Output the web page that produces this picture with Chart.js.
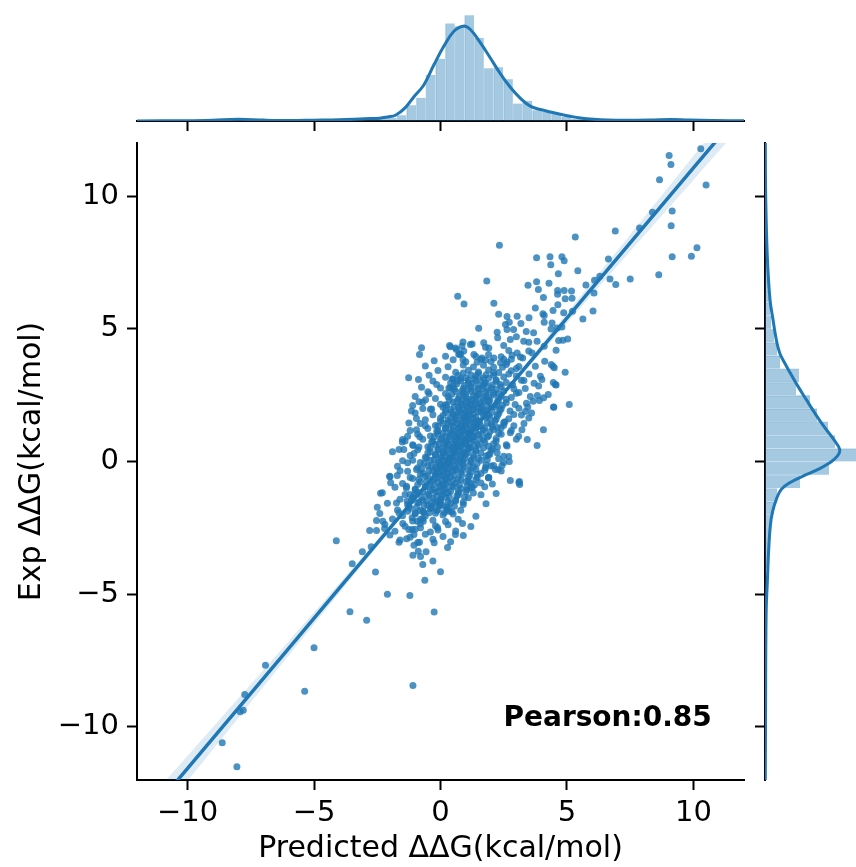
<!DOCTYPE html>
<html>
<head>
<meta charset="utf-8">
<title>Predicted vs Exp ddG</title>
<script src="https://cdn.jsdelivr.net/npm/chart.js@4.4.0/dist/chart.umd.min.js"></script>
<style>
    html, body { margin: 0; padding: 0; background: #fff; }
    #wrap { position: relative; width: 856px; height: 867px; overflow: hidden; }
    .panel { position: absolute; }
</style>
</head>
<body>
<div id="wrap">
    <canvas class="panel" id="mainChart" width="760" height="867" style="left:0;top:0"></canvas>
    <canvas class="panel" id="topChart" width="760" height="135" style="left:0;top:0"></canvas>
    <canvas class="panel" id="rightChart" width="116" height="867" style="left:740px;top:0"></canvas>
</div>
<script>
// ---- data ----
const axisTicks = [-10, -5, 0, 5, 10];

// outer points of the scatter [predicted, experimental]
const scatterTail = [
    [10.29,11.78],[9.04,11.53],[9.11,11.19],[8.66,10.62],[10.5,10.42],[8.38,9.39],[9.16,9.44],[9.12,8.88],
    [7.87,8.80],[6.91,8.68],[5.33,8.46],[2.33,8.15],[10.14,8.05],[9.92,7.73],[9.16,7.71],[3.80,7.68],
    [4.33,7.71],[4.80,7.71],[4.89,7.56],[4.36,7.41],[6.64,7.63],[5.43,7.19],[4.66,7.07],[8.63,7.04],
    [7.5,6.88],[6.70,6.88],[6.93,6.67],[6.30,6.98],[6.09,6.83],[5.75,6.65],[1.83,6.80],[3.46,6.64],
    [3.80,6.77],[3.87,6.48],[4.29,6.72],[4.63,6.44],[4.89,6.44],[5.18,6.42],[4.63,6.30],[6.07,6.35],
    [4.07,6.18],[4.93,6.13],[5.20,6.15],[0.68,6.23],[0.93,5.93],[2.11,5.96],[3.75,5.78],[4.64,5.91],
    [4.45,5.69],[4.87,5.60],[5.22,5.66],[4.05,5.57],[4.10,5.50],[6.03,5.67],[5.63,5.37],[2.30,5.55],
    [2.63,5.46],[3.03,5.47],[3.50,5.42],[2.72,5.25],[2.57,5.16],[3.18,5.20],[4.41,5.22],[4.10,5.25],
    [1.51,5.02],[2.24,4.87],[2.63,4.97],[2.89,4.97],[3.39,4.90],[3.68,4.85],[4.37,4.99],[4.61,5.03],
    [4.80,5.07],[2.26,4.66],[2.76,4.60],[3.00,4.70],[3.29,4.53],[3.49,4.49],[3.82,4.53],[4.67,4.56],
    [4.84,4.57],[5.03,4.62],[0.89,4.50],[1.25,4.43],[0.39,4.32],[1.71,4.47],[1.91,4.28],[1.78,4.30],
    [2.50,4.37],[2.70,4.18],[3.03,4.09],[3.49,4.16],[4.10,4.34],[4.57,4.19],[0.92,4.16],[0.72,4.03],
    [0.89,3.84],[1.32,4.03],[1.64,3.90],[2.11,3.90],[2.83,4.00],[3.16,3.94],[3.62,4.09],[1.45,3.74],
    [1.78,3.82],[2.37,3.72],[2.63,3.74],[4.12,3.78],[4.38,3.65],[4.50,3.53],[4.93,3.36],[3.75,3.59],
    [3.95,3.21],[4.01,3.09],[3.88,2.84],[4.57,2.88],[0.50,3.11],[0.33,2.77],[4.08,2.40],[3.91,2.30],
    [4.47,2.05],[3.49,1.64],
    [0.59,4.28],[0.85,4.35],[1.18,4.41],[0.76,4.06],[-0.59,2.33],[-0.35,1.98],[0.20,2.14],[0.46,3.11],
    [0.39,2.77],[0.66,3.03],[-1.51,0.73],[-1.64,0.45],[-1.08,0.60],[-0.82,0.93],[-2.50,-1.72],[-1.97,-0.80],
    [-1.71,-0.53],[-1.34,-0.93],[-1.21,-1.24],[-1.74,-1.56],[-1.32,-1.49],[-1.64,-1.93],[-0.66,-1.91],[-0.37,-1.68],
    [-0.07,-1.53],[0.26,-1.83],[2.76,-0.72],[3.13,-0.87],[3.82,0.60],[4.48,2.04],[4.54,2.90],[4.45,3.59],
    [3.66,2.27],[3.22,1.20],[3.09,0.95],[2.76,1.08],[2.63,0.58],[2.50,0.20],[2.24,0.33],[2.43,-0.15],
    [2.17,-0.30],[1.78,-0.24],[1.91,-0.61],[1.18,-0.81],[1.05,-1.06],[0.72,-1.18],[0.33,-1.87],[0.00,-1.62],
    [-0.79,-2.18],[-1.12,-2.12],
    [-1.26,3.16],[-0.87,3.09],[-1.10,2.11],[-1.50,0.83],[-2.01,-0.56],[-2.37,-1.20],[-2.53,-2.22],[-2.80,-2.60],
    [-2.21,-2.52],[-0.79,-3.58],[-0.12,-2.49],[3.12,-0.75],[2.72,0.00],[2.29,-0.30],[3.43,0.83],[4.07,1.20],
    [5.09,2.15],[4.46,2.98],[4.26,2.52],[3.83,2.49],[3.36,1.88],[0.36,4.37],[0.63,4.22],[-0.75,4.29],
    [-0.83,4.03],[2.25,1.28],[0.28,-3.24],[0.59,-2.75],[0.87,-2.34],[1.26,-0.98],[1.90,-0.60],
    [-4.12,-2.99],[-3.49,-3.85],[-3.09,-3.40],[-2.74,-3.21],[-2.53,-2.60],[-2.28,-2.25],[-2.57,-4.16],[-2.10,-5.00],
    [-1.21,-5.05],[-3.58,-5.66],[-2.92,-5.98],[-5.00,-7.02],[-5.37,-8.66],[-1.09,-8.44],[-6.92,-7.68],[-7.74,-8.78],
    [-7.92,-9.43],[-7.80,-9.37],[-8.63,-10.60],[-8.05,-11.50],[-1.64,-3.04],[-1.34,-2.91],[-1.49,-2.34],[-1.09,-3.53],
    [-0.70,-3.88],[-0.62,-4.47],[-0.25,-5.67],[-0.30,-3.75],[-0.57,-3.40],[-0.88,-3.38],[-0.83,-3.04],[-1.05,-3.16],
    [-1.05,-2.75],[-0.79,-2.50],[-1.25,-2.56],[-1.12,-2.56],[-0.92,-2.25],[-0.68,-2.25],[-0.25,-3.06],[0.00,-4.15]
];

// middle of the cloud
const scatterCore = [
    [-1.6,-2.96],[-0.9,-3.05],[-0.3,-2.93],[0.4,-3.02],
    [-2.0,-2.77],[-1.2,-2.85],[-0.6,-2.74],[0.1,-2.83],[0.9,-2.79],
    [-1.8,-2.63],[-1.0,-2.55],[-0.4,-2.66],[-0.1,-2.58],[0.6,-2.62],
    [-2.2,-2.37],[-1.4,-2.44],[-0.8,-2.35],[-0.2,-2.42],[0.3,-2.38],[1.2,-2.45],
    [-1.9,-2.17],[-1.1,-2.24],[-0.7,-2.15],[-0.3,-2.21],[0.2,-2.26],[0.7,-2.18],
    [-2.4,-1.96],[-1.5,-2.04],[-1.0,-1.97],[-0.6,-2.05],[-0.2,-1.95],[0.1,-2.02],[0.5,-1.98],[1.4,-2.06],
    [-1.7,-1.83],[-1.2,-1.76],[-0.8,-1.85],[-0.4,-1.78],[-0.1,-1.82],[0.3,-1.75],[0.8,-1.84],
    [-2.1,-1.57],[-1.3,-1.63],[-0.9,-1.55],[-0.5,-1.64],[-0.2,-1.58],[0.1,-1.66],[0.4,-1.56],[0.9,-1.62],[1.8,-1.59],
    [-1.6,-1.42],[-1.1,-1.36],[-0.7,-1.45],[-0.3,-1.38],[0.0,-1.43],[0.2,-1.35],[0.6,-1.44],[1.1,-1.37],
    [-2.3,-1.18],[-1.4,-1.24],[-0.9,-1.16],[-0.5,-1.23],[-0.2,-1.15],[0.1,-1.22],[0.3,-1.17],[0.7,-1.25],[1.3,-1.19],[2.2,-1.21],
    [-1.8,-0.97],[-1.0,-1.04],[-0.6,-0.96],[-0.3,-1.05],[0.0,-0.98],[0.2,-1.03],[0.5,-0.95],[0.8,-1.02],[1.2,-0.99],
    [-1.5,-0.83],[-0.8,-0.76],[-0.4,-0.84],[-0.1,-0.78],[0.1,-0.85],[0.3,-0.77],[0.6,-0.82],[1.0,-0.75],[1.6,-0.81],[3.1,-0.79],
    [-2.0,-0.57],[-1.1,-0.64],[-0.6,-0.56],[-0.2,-0.63],[0.0,-0.55],[0.2,-0.62],[0.4,-0.58],[0.7,-0.65],[1.1,-0.57],[1.9,-0.61],
    [-1.3,-0.37],[-0.7,-0.43],[-0.3,-0.36],[-0.1,-0.44],[0.1,-0.38],[0.3,-0.42],[0.5,-0.35],[0.8,-0.41],[1.2,-0.39],[1.6,-0.45],[2.4,-0.36],
    [-1.7,-0.18],[-0.9,-0.24],[-0.5,-0.16],[-0.2,-0.22],[0.0,-0.15],[0.2,-0.23],[0.4,-0.17],[0.6,-0.25],[0.9,-0.19],[1.3,-0.21],[2.0,-0.17],
    [-1.5,0.03],[-0.8,-0.04],[-0.4,0.05],[-0.1,-0.02],[0.1,0.06],[0.3,-0.05],[0.5,0.02],[0.7,-0.03],[0.9,0.04],[1.2,-0.01],[1.6,0.05],[2.5,-0.04],
    [-1.2,0.23],[-0.6,0.16],[-0.2,0.24],[0.0,0.17],[0.2,0.25],[0.4,0.15],[0.6,0.22],[0.8,0.18],[1.0,0.26],[1.3,0.14],[1.8,0.21],[2.7,0.19],
    [-1.9,0.37],[-0.9,0.44],[-0.4,0.36],[-0.1,0.43],[0.1,0.35],[0.3,0.45],[0.5,0.38],[0.7,0.42],[0.9,0.34],[1.1,0.46],[1.4,0.39],[2.0,0.41],
    [-1.1,0.63],[-0.5,0.56],[-0.2,0.64],[0.1,0.57],[0.3,0.65],[0.5,0.55],[0.6,0.62],[0.8,0.58],[1.0,0.66],[1.2,0.54],[1.5,0.61],[1.9,0.57],[2.6,0.63],
    [-1.4,0.77],[-0.7,0.84],[-0.3,0.76],[0.0,0.83],[0.2,0.75],[0.4,0.85],[0.6,0.78],[0.8,0.82],[1.0,0.74],[1.1,0.86],[1.3,0.79],[1.7,0.81],[2.2,0.77],[3.0,0.84],
    [-0.9,1.03],[-0.4,0.96],[-0.1,1.04],[0.2,0.97],[0.4,1.05],[0.6,0.95],[0.7,1.02],[0.9,0.98],[1.1,1.06],[1.3,0.94],[1.5,1.01],[1.9,0.97],[2.4,1.03],
    [-1.2,1.17],[-0.5,1.24],[-0.1,1.16],[0.2,1.23],[0.5,1.15],[0.7,1.25],[0.9,1.18],[1.0,1.22],[1.2,1.14],[1.4,1.26],[1.7,1.19],[2.1,1.21],[2.8,1.17],
    [-0.8,1.43],[-0.2,1.36],[0.1,1.44],[0.4,1.37],[0.6,1.45],[0.8,1.35],[1.0,1.42],[1.2,1.38],[1.4,1.46],[1.6,1.34],[2.0,1.41],[2.5,1.37],[3.3,1.43],
    [-0.6,1.57],[0.0,1.64],[0.3,1.56],[0.6,1.63],[0.8,1.55],[1.0,1.65],[1.1,1.58],[1.3,1.62],[1.5,1.54],[1.8,1.66],[2.2,1.59],[2.7,1.61],
    [-1.0,1.83],[-0.3,1.76],[0.2,1.84],[0.5,1.77],[0.7,1.85],[0.9,1.75],[1.1,1.82],[1.3,1.78],[1.6,1.86],[1.9,1.74],[2.3,1.81],[2.9,1.77],[3.6,1.83],
    [-0.4,1.97],[0.1,2.04],[0.4,1.96],[0.7,2.03],[0.9,1.95],[1.1,2.05],[1.3,1.98],[1.5,2.02],[1.7,1.94],[2.0,2.06],[2.4,1.99],[3.1,2.01],
    [-0.7,2.23],[0.0,2.16],[0.5,2.24],[0.8,2.17],[1.0,2.25],[1.2,2.15],[1.4,2.22],[1.6,2.18],[1.9,2.26],[2.2,2.14],[2.6,2.21],[3.4,2.19],
    [-0.2,2.37],[0.3,2.44],[0.7,2.36],[1.0,2.43],[1.2,2.35],[1.4,2.45],[1.7,2.38],[1.9,2.42],[2.3,2.34],[2.8,2.41],
    [-0.5,2.63],[0.2,2.56],[0.6,2.64],[0.9,2.57],[1.2,2.65],[1.5,2.55],[1.8,2.62],[2.1,2.58],[2.5,2.66],[3.0,2.57],
    [0.0,2.77],[0.5,2.84],[0.9,2.76],[1.2,2.83],[1.5,2.75],[1.7,2.85],[2.0,2.78],[2.4,2.82],[2.9,2.74],
    [-0.3,3.03],[0.4,2.96],[0.8,3.04],[1.1,2.97],[1.4,3.05],[1.8,2.95],[2.2,3.02],[2.6,2.98],[3.2,3.06],
    [0.2,3.17],[0.7,3.24],[1.0,3.16],[1.4,3.23],[1.7,3.15],[2.1,3.25],[2.5,3.18],[3.0,3.22],
    [-0.1,3.43],[0.6,3.36],[1.1,3.44],[1.5,3.37],[1.9,3.45],[2.3,3.35],[2.8,3.42],
    [0.3,3.57],[0.9,3.64],[1.3,3.56],[1.7,3.63],[2.1,3.55],[2.6,3.65],[3.1,3.58],
    [0.5,3.83],[1.0,3.76],[1.6,3.84],[2.0,3.77],[2.5,3.85],
    [0.2,3.97],[0.8,4.04],[1.4,3.96],[1.9,4.03],[2.4,3.95]
];

// solid blob in the centre where the dots merge
const scatterDense = [
    [-1.3,-1.87],[-1.0,-1.94],[-0.7,-1.88],[-0.45,-1.93],[-0.15,-1.86],[0.15,-1.92],[0.45,-1.89],
    [-1.25,-1.67],[-0.95,-1.73],[-0.65,-1.68],[-0.35,-1.74],[-0.05,-1.66],[0.25,-1.72],[0.55,-1.69],
    [-1.15,-1.47],[-0.85,-1.54],[-0.55,-1.48],[-0.3,-1.53],[0.0,-1.46],[0.3,-1.52],[0.6,-1.49],[0.9,-1.54],
    [-1.05,-1.27],[-0.75,-1.34],[-0.45,-1.28],[-0.15,-1.33],[0.05,-1.26],[0.35,-1.32],[0.65,-1.29],[0.95,-1.34],
    [-1.0,-1.07],[-0.7,-1.14],[-0.4,-1.08],[-0.1,-1.13],[0.15,-1.06],[0.4,-1.12],[0.7,-1.09],[1.0,-1.14],
    [-0.9,-0.87],[-0.6,-0.94],[-0.3,-0.88],[-0.05,-0.93],[0.2,-0.86],[0.45,-0.92],[0.75,-0.89],[1.05,-0.94],[1.35,-0.88],
    [-0.85,-0.67],[-0.55,-0.74],[-0.25,-0.68],[0.05,-0.73],[0.25,-0.66],[0.5,-0.72],[0.8,-0.69],[1.1,-0.74],[1.4,-0.68],
    [-0.8,-0.47],[-0.5,-0.54],[-0.2,-0.48],[0.05,-0.53],[0.3,-0.46],[0.55,-0.52],[0.85,-0.49],[1.15,-0.54],[1.45,-0.48],
    [-0.75,-0.27],[-0.45,-0.34],[-0.15,-0.28],[0.1,-0.33],[0.35,-0.26],[0.6,-0.32],[0.85,-0.29],[1.1,-0.34],[1.4,-0.28],[1.75,-0.33],
    [-0.65,-0.07],[-0.35,-0.14],[-0.05,-0.08],[0.15,-0.13],[0.4,-0.06],[0.65,-0.12],[0.9,-0.09],[1.15,-0.14],[1.45,-0.08],[1.8,-0.13],
    [-0.55,0.13],[-0.25,0.06],[0.05,0.12],[0.3,0.07],[0.5,0.14],[0.75,0.08],[0.95,0.11],[1.2,0.06],[1.5,0.12],[1.85,0.07],
    [-0.5,0.33],[-0.2,0.26],[0.1,0.32],[0.35,0.27],[0.6,0.34],[0.85,0.28],[1.05,0.31],[1.3,0.26],[1.6,0.32],[1.95,0.27],
    [-0.4,0.53],[-0.1,0.46],[0.2,0.52],[0.45,0.47],[0.7,0.54],[0.9,0.48],[1.15,0.51],[1.4,0.46],[1.7,0.52],[2.05,0.47],
    [-0.35,0.73],[-0.05,0.66],[0.25,0.72],[0.5,0.67],[0.75,0.74],[0.95,0.68],[1.2,0.71],[1.45,0.66],[1.75,0.72],[2.1,0.67],
    [-0.25,0.93],[0.05,0.86],[0.35,0.92],[0.6,0.87],[0.8,0.94],[1.05,0.88],[1.3,0.91],[1.55,0.86],[1.85,0.92],[2.2,0.87],
    [-0.15,1.13],[0.1,1.06],[0.4,1.12],[0.65,1.07],[0.9,1.14],[1.15,1.08],[1.4,1.11],[1.65,1.06],[1.95,1.12],[2.3,1.07],
    [-0.1,1.33],[0.2,1.26],[0.5,1.32],[0.75,1.27],[1.0,1.34],[1.25,1.28],[1.5,1.31],[1.75,1.26],[2.05,1.32],[2.4,1.27],
    [0.0,1.53],[0.3,1.46],[0.55,1.52],[0.85,1.47],[1.05,1.54],[1.3,1.48],[1.55,1.51],[1.85,1.46],[2.15,1.52],[2.5,1.47],
    [0.1,1.73],[0.4,1.66],[0.65,1.72],[0.9,1.67],[1.15,1.74],[1.4,1.68],[1.7,1.71],[1.95,1.66],[2.25,1.72],
    [0.2,1.93],[0.45,1.86],[0.75,1.92],[1.0,1.87],[1.25,1.94],[1.5,1.88],[1.8,1.91],[2.05,1.86],[2.35,1.92],
    [0.25,2.13],[0.55,2.06],[0.85,2.12],[1.05,2.07],[1.35,2.14],[1.6,2.08],[1.85,2.11],[2.15,2.06],[2.45,2.12],
    [0.35,2.33],[0.65,2.26],[0.9,2.32],[1.15,2.27],[1.45,2.34],[1.7,2.28],[1.95,2.31],[2.25,2.26],
    [0.45,2.53],[0.75,2.46],[1.0,2.52],[1.3,2.47],[1.55,2.54],[1.8,2.48],[2.1,2.51],[2.4,2.46],
    [0.55,2.73],[0.85,2.66],[1.1,2.72],[1.35,2.67],[1.65,2.74],[1.9,2.68],[2.2,2.71],
    [0.65,2.93],[0.95,2.86],[1.25,2.92],[1.5,2.87],[1.75,2.94],[2.05,2.88],[2.35,2.91],
    [0.8,3.13],[1.1,3.06],[1.35,3.12],[1.6,3.07],[1.9,3.14],[2.2,3.08],
    [0.9,3.33],[1.2,3.26],[1.5,3.32],[1.8,3.27],[2.1,3.34]
];

// extra dots filling the flanks of the cloud
const scatterFlanks = [
    [-1.25,1.45],[-0.95,1.62],[-0.7,2.0],[-1.0,2.45],[-0.75,2.8],[-0.45,3.25],[-0.6,3.6],[-0.25,3.8],
    [-0.95,1.2],[-1.3,0.95],[-0.6,1.35],[-0.45,2.55],[-0.15,2.9],[-0.85,2.25],[-1.15,1.9],
    [2.3,2.55],[2.6,2.35],[2.85,2.9],[3.1,2.6],[3.3,3.05],[2.7,3.3],[3.0,3.5],[3.5,3.3],[3.35,2.75],
    [2.45,3.55],[2.8,3.85],[3.25,3.9],[3.7,2.95],[3.55,2.45],[2.95,2.15],[3.2,1.75],[2.75,1.9],
    [2.55,1.5],[2.9,1.35],[3.45,2.05],
    [-1.3,-0.05],[-1.05,0.3],[-1.2,-0.6],[-0.95,-0.3],[-1.45,0.45],[-1.6,-0.35],[-1.35,-1.0],[-1.1,0.05],[-0.85,0.55],
    [1.45,-0.6],[1.75,-0.95],[2.1,-0.15],[2.3,0.1],[1.9,0.25],[2.05,-0.85],[1.6,-1.25],[2.25,0.55]
];

// regression line and its confidence band
const fitX = [-12, -10, -8, -6, -4, -2, 0, 2, 4, 6, 8, 10, 12];
const fitY = [-13.82, -11.56, -9.30, -7.04, -4.77, -2.51, -0.25, 2.01, 4.27, 6.54, 8.80, 11.06, 13.32];
const bandUpper = [-13.24, -11.09, -8.93, -6.77, -4.59, -2.40, -0.17, 2.10, 4.42, 6.78, 9.14, 11.51, 13.88];
const bandLower = [-14.40, -12.03, -9.67, -7.31, -4.95, -2.62, -0.33, 1.92, 4.12, 6.30, 8.46, 10.61, 12.76];

// top marginal: histogram of predicted values + kde
const topBinCenters = [
    -8.439, -8.056, -7.673, -7.290, -6.907, -6.524, -6.141, -5.758, -5.375, -4.992,
    -4.609, -4.226, -3.843, -3.460, -3.077, -2.694, -2.311, -1.928, -1.545, -1.162,
    -0.779, -0.396, -0.013, 0.370, 0.753, 1.136, 1.519, 1.902, 2.285, 2.668,
    3.051, 3.434, 3.817, 4.200, 4.583, 4.966, 5.349, 5.732, 6.115, 6.498,
    6.881, 7.264, 7.647, 8.030, 8.413, 8.796, 9.179, 9.562, 9.945, 10.328
];
const topBinHeights = [
    1, 2, 2, 0.5, 1, 0, 0, 0.5, 1, 1,
    0.5, 1, 1.5, 2, 1.5, 2.5, 3, 3, 5.7, 15.7,
    23, 45.7, 61.7, 96.7, 94, 104.7, 82.3, 52.3, 53.3, 41.3,
    17.3, 20, 10.7, 9, 7.3, 4, 2.5, 2, 1.5, 1,
    1, 0.5, 0.5, 0.5, 0.5, 1, 3, 0.5, 0.5, 1
];
const topKdeX = [-12, -10, -9, -8, -7, -6, -5, -4, -3, -2.4, -2.1, -1.78, -1.4, -1.05, -0.66, -0.26, 0.13, 0.53, 0.9,
    1.18, 1.58, 1.97, 2.37, 2.76, 3.16, 3.55, 3.95, 4.34, 4.74, 5.13, 5.53, 6.05, 6.6, 7.5, 8.3, 9.1, 9.8, 10.8, 12];
const topKdeY = [0.1, 0.3, 0.8, 1.7, 0.9, 0.5, 0.8, 1.2, 2.3, 2.8, 4, 5.7, 13, 24, 35.7, 55.7, 74, 89, 94,
    90.7, 77.4, 62.4, 46.7, 33.4, 22.4, 14.7, 11.4, 9, 6.7, 4.7, 3, 1.7, 1.0, 0.8, 0.9, 1.6, 1.0, 0.5, 0.2];

// right marginal: histogram of experimental values + kde
const rightBinCenters = [
    -11.75, -11.25, -10.75, -10.25, -9.75, -9.25, -8.75, -8.25, -7.75, -7.25, -6.75, -6.25,
    -5.75, -5.25, -4.75, -4.25, -3.75, -3.25, -2.75, -2.25, -1.75, -1.25, -0.75, -0.25,
    0.25, 0.75, 1.25, 1.75, 2.25, 2.75, 3.25, 3.75, 4.25, 4.75, 5.25, 5.75,
    6.25, 6.75, 7.25, 7.75, 8.25, 8.75, 9.25, 9.75, 10.25, 10.75, 11.25, 11.75
];
const rightBinWidths = [
    0.5, 0.5, 0.5, 0.5, 0.5, 0.5, 0.5, 1, 0.5, 0.5, 0.5, 0.5,
    1, 1, 1, 1.5, 2, 4, 5, 6, 9, 12, 35, 64,
    91, 70, 63, 52, 45, 31, 34, 15, 12, 9, 6, 5,
    4, 3, 2.5, 2, 1.5, 1, 1, 0.5, 1, 0.5, 0.5, 1
];
const rightKdeY = [12, 10, 7.74, 6.1, 5.35, 4.59, 4.09, 3.71, 3.33, 2.83, 2.33, 1.83, 1.33, 0.83, 0.45, 0.2,
    -0.05, -0.3, -0.55, -0.8, -1.05, -1.43, -1.93, -2.43, -3.31, -4.57, -5.45, -7, -9, -12];
const rightKdeX = [0.3, 0.7, 2.3, 5, 8, 11.3, 14.7, 19.7, 25.3, 33, 41.3, 49.7, 58.7, 68.7, 74.7, 72.3,
    64.7, 53, 38, 24.7, 16.3, 11.3, 7.3, 5.3, 3.7, 2.3, 1.3, 0.8, 0.6, 0.3];

const pearsonText = 'Pearson:0.85';
const pearsonAt = [2.49, -9.98];

// ---- styling ----
const FONT = '"DejaVu Sans", sans-serif';
const BLUE = '#1f77b4';

function fmtTick(v) {
    return v < 0 ? '\u2212' + Math.abs(v) : String(v);
}

function fixedTicks(scale) {
    scale.ticks = axisTicks.map(v => ({ value: v }));
}

const tickGrid = {
    display: true,
    drawOnChartArea: false,
    drawTicks: true,
    tickLength: 10,
    tickWidth: 2,
    tickColor: '#000'
};
const spine = { display: true, color: '#000', width: 2 };

const toPoints = (xs, ys) => xs.map((x, i) => ({ x: x, y: ys[i] }));
const pairPoints = pairs => pairs.map(p => ({ x: p[0], y: p[1] }));

Chart.defaults.font.family = FONT;
Chart.defaults.color = '#000';

// ---- main joint scatter ----
const pearsonLabel = {
    id: 'pearsonLabel',
    afterDatasetsDraw(chart) {
        const { ctx, scales } = chart;
        ctx.save();
        ctx.font = 'bold 28px ' + FONT;
        ctx.fillStyle = '#000';
        ctx.textAlign = 'left';
        ctx.textBaseline = 'alphabetic';
        ctx.fillText(pearsonText, scales.x.getPixelForValue(pearsonAt[0]), scales.y.getPixelForValue(pearsonAt[1]));
        ctx.restore();
    }
};

new Chart(document.getElementById('mainChart'), {
    type: 'scatter',
    data: {
        datasets: [
            {
                data: toPoints(fitX, fitY),
                showLine: true,
                borderColor: BLUE,
                borderWidth: 3.5,
                pointRadius: 0,
                fill: false,
                clip: 0
            },
            {
                data: toPoints(fitX, bandUpper),
                showLine: true,
                borderWidth: 0,
                borderColor: 'rgba(0,0,0,0)',
                pointRadius: 0,
                tension: 0.3,
                fill: '+1',
                backgroundColor: 'rgba(31, 119, 180, 0.15)',
                clip: 0
            },
            {
                data: toPoints(fitX, bandLower),
                showLine: true,
                borderWidth: 0,
                borderColor: 'rgba(0,0,0,0)',
                pointRadius: 0,
                tension: 0.3,
                fill: false,
                clip: 0
            },
            {
                data: pairPoints(scatterTail.concat(scatterCore, scatterDense, scatterFlanks)),
                pointRadius: 3.5,
                pointBorderWidth: 0,
                pointBackgroundColor: 'rgba(31, 119, 180, 0.8)'
            }
        ]
    },
    options: {
        responsive: false,
        animation: false,
        events: [],
        layout: { padding: { top: 143, right: 16, bottom: 0, left: 0 } },
        plugins: { legend: { display: false }, tooltip: { enabled: false } },
        scales: {
            x: {
                type: 'linear',
                min: -12,
                max: 12,
                afterBuildTicks: fixedTicks,
                afterFit: s => { s.height = 87; },
                grid: tickGrid,
                border: spine,
                ticks: { font: { size: 29 }, padding: 6, maxRotation: 0, autoSkip: false, callback: fmtTick },
                title: { display: true, text: 'Predicted ΔΔG(kcal/mol)', font: { size: 30 }, padding: 0 }
            },
            y: {
                type: 'linear',
                min: -12,
                max: 12,
                afterBuildTicks: fixedTicks,
                afterFit: s => { s.width = 137; },
                grid: tickGrid,
                border: spine,
                ticks: { font: { size: 29 }, padding: 8, autoSkip: false, callback: fmtTick },
                title: { display: true, text: 'Exp ΔΔG(kcal/mol)', font: { size: 30 }, padding: { top: 14, bottom: 0 } }
            }
        }
    },
    plugins: [pearsonLabel]
});

// ---- top marginal ----
new Chart(document.getElementById('topChart'), {
    type: 'bar',
    data: {
        datasets: [
            {
                type: 'line',
                data: toPoints(topKdeX, topKdeY),
                borderColor: BLUE,
                borderWidth: 3,
                pointRadius: 0,
                tension: 0.4,
                fill: false
            },
            {
                type: 'bar',
                data: toPoints(topBinCenters, topBinHeights),
                backgroundColor: 'rgba(31, 119, 180, 0.4)',
                borderColor: 'rgba(31, 119, 180, 0.18)',
                borderWidth: { left: 1, right: 0, top: 0, bottom: 0 },
                borderSkipped: false,
                barPercentage: 1,
                categoryPercentage: 1
            }
        ]
    },
    options: {
        responsive: false,
        animation: false,
        events: [],
        layout: { padding: { top: 10, right: 16, bottom: 0, left: 137 } },
        plugins: { legend: { display: false }, tooltip: { enabled: false } },
        scales: {
            x: {
                type: 'linear',
                min: -12,
                max: 12,
                offset: false,
                afterBuildTicks: fixedTicks,
                afterFit: s => { s.height = 14; },
                grid: Object.assign({ offset: false }, tickGrid),
                border: spine,
                ticks: { display: false }
            },
            y: { display: false, min: 0, max: 110 }
        }
    }
});

// ---- right marginal ----
new Chart(document.getElementById('rightChart'), {
    type: 'bar',
    data: {
        datasets: [
            {
                type: 'line',
                indexAxis: 'y',
                data: toPoints(rightKdeX, rightKdeY),
                borderColor: BLUE,
                borderWidth: 3,
                pointRadius: 0,
                tension: 0.4,
                fill: false
            },
            {
                type: 'bar',
                data: toPoints(rightBinWidths, rightBinCenters),
                backgroundColor: 'rgba(31, 119, 180, 0.4)',
                borderColor: 'rgba(31, 119, 180, 0.18)',
                borderWidth: { top: 1, right: 0, left: 0, bottom: 0 },
                borderSkipped: false,
                barPercentage: 1,
                categoryPercentage: 1
            }
        ]
    },
    options: {
        indexAxis: 'y',
        responsive: false,
        animation: false,
        events: [],
        layout: { padding: { top: 143, right: 0, bottom: 87, left: 0 } },
        plugins: { legend: { display: false }, tooltip: { enabled: false } },
        scales: {
            y: {
                type: 'linear',
                position: 'left',
                min: -12,
                max: 12,
                offset: false,
                afterBuildTicks: fixedTicks,
                afterFit: s => { s.width = 25; },
                grid: Object.assign({ offset: false }, tickGrid),
                border: spine,
                ticks: { display: false }
            },
            x: { display: false, min: 0, max: 91 }
        }
    }
});
</script>
</body>
</html>
